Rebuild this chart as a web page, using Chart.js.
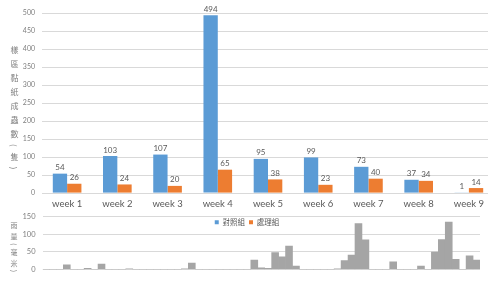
<!DOCTYPE html>
<html lang="zh-Hant">
<head>
<meta charset="UTF-8">
<title>黏紙成蟲數與雨量</title>
<script src="https://cdn.jsdelivr.net/npm/chart.js"></script>
<style>
  html, body { margin: 0; padding: 0; background: #fff; overflow: hidden; width: 488px; height: 281px; }
  #top { position: absolute; left: 0; top: 0; z-index: 2; }
  #rain { position: absolute; left: 0; top: 205px; z-index: 1; }
  .vtitle {
    position: absolute; writing-mode: vertical-rl; color: #7f7f7f;
    font-family: "Noto Sans CJK TC", sans-serif; z-index: 3;
  }
  #t1 { left: 9px; top: 46px; font-size: 8px; letter-spacing: 6px; }
  #t2 { left: 9px; top: 222px; font-size: 7px; letter-spacing: 3.5px; }
</style>
</head>
<body>
<canvas id="top" width="500" height="236"></canvas>
<canvas id="rain" width="488" height="76"></canvas>
<div class="vtitle" id="t1">樣區黏紙成蟲數(隻)</div>
<div class="vtitle" id="t2">雨量(毫米)</div>

<script>
const weeks = ['week 1', 'week 2', 'week 3', 'week 4', 'week 5', 'week 6', 'week 7', 'week 8', 'week 9'];
const control = [54, 103, 107, 494, 95, 99, 73, 37, 1];
const treatment = [26, 24, 20, 65, 38, 23, 40, 34, 14];

// daily rainfall, 9 weeks x 7 days
const rainfall = [
  0, 0, 0, 13, 0, 0, 3,
  0, 15, 0, 0, 0, 2, 0,
  0, 0, 0, 0, 0, 0, 2,
  18, 0, 0, 0, 0, 0, 0,
  0, 0, 27, 5, 3, 48, 36,
  66, 10, 0, 0, 0, 0, 0,
  2, 25, 41, 130, 84, 0, 0,
  0, 22, 0, 0, 0, 10, 0,
  49, 85, 134, 29, 0, 39, 27
];
const rainDays = rainfall.map((v, i) => 'day ' + (i + 1));

const gridColor = '#d9d9d9';
const tickColor = '#7f7f7f';
const font = 'Lato, "Liberation Sans", sans-serif';

const valueLabels = {
  id: 'valueLabels',
  afterDatasetsDraw(chart) {
    const c = chart.ctx;
    c.save();
    c.font = '8px ' + font;
    c.fillStyle = '#595959';
    c.textAlign = 'center';
    c.textBaseline = 'bottom';
    chart.data.datasets.forEach((ds, i) => {
      chart.getDatasetMeta(i).data.forEach((bar, j) => {
        c.fillText(ds.data[j], bar.x, bar.y - 2);
      });
    });
    c.restore();
  }
};

new Chart(document.getElementById('top'), {
  type: 'bar',
  data: {
    labels: weeks,
    datasets: [
      { label: '對照組', data: control, backgroundColor: '#5b9bd5', barPercentage: 1, categoryPercentage: 0.57 },
      { label: '處理組', data: treatment, backgroundColor: '#ed7d31', barPercentage: 1, categoryPercentage: 0.57 }
    ]
  },
  options: {
    responsive: false,
    animation: false,
    layout: { padding: { top: 13, right: 6, bottom: 0, left: 0 } },
    plugins: {
      tooltip: { enabled: false },
      legend: {
        position: 'bottom',
        labels: { boxWidth: 4, boxHeight: 4, padding: 4, color: '#595959', font: { size: 7.5, family: '"Noto Sans CJK TC", sans-serif' } }
      }
    },
    scales: {
      x: {
        grid: { display: false, drawTicks: false },
        border: { display: false },
        ticks: { color: '#595959', padding: 5, font: { size: 9.5, family: font } }
      },
      y: {
        min: 0, max: 500,
        afterFit(s) { s.width = 42; },
        grid: { color: gridColor, drawTicks: false },
        border: { display: false },
        ticks: { stepSize: 50, color: tickColor, padding: 7, font: { size: 7, family: font } }
      }
    }
  },
  plugins: [valueLabels]
});

new Chart(document.getElementById('rain'), {
  type: 'bar',
  data: {
    labels: rainDays,
    datasets: [
      { label: '雨量', data: rainfall, backgroundColor: '#a5a5a5', barPercentage: 1, categoryPercentage: 1 }
    ]
  },
  options: {
    responsive: false,
    animation: false,
    layout: { padding: { top: 6, right: 8, bottom: 2, left: 0 } },
    plugins: { legend: { display: false }, tooltip: { enabled: false } },
    scales: {
      x: {
        grid: { display: false, drawTicks: false },
        border: { display: false },
        ticks: { display: false }
      },
      y: {
        min: 0, max: 150,
        afterFit(s) { s.width = 42.5; },
        grid: { color: gridColor, drawTicks: false },
        border: { display: false },
        ticks: { stepSize: 50, color: tickColor, padding: 7, font: { size: 7.5, family: font } }
      }
    }
  }
});
</script>
</body>
</html>
